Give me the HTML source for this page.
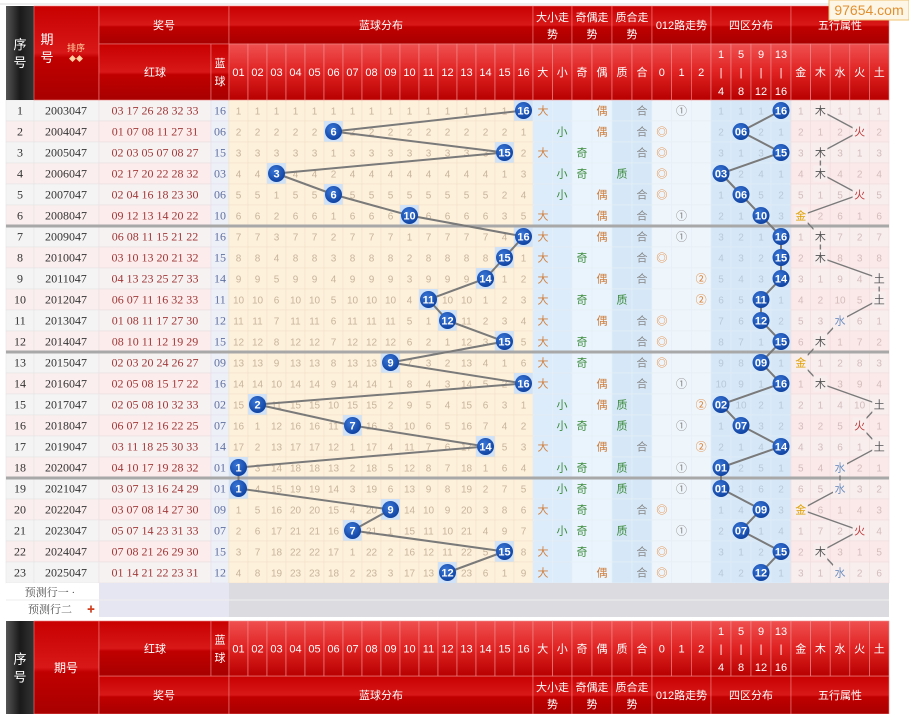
<!DOCTYPE html>
<html><head><meta charset="utf-8">
<style>
html,body{margin:0;padding:0;background:#fff;width:909px;height:714px;overflow:hidden}
svg{display:block}
text{font-family:"Liberation Sans","Noto Sans CJK SC",sans-serif}
.s{font-family:"Liberation Serif","Noto Serif CJK SC",serif}
</style></head><body>
<svg id="g" width="909" height="714" xmlns="http://www.w3.org/2000/svg">
<defs>
<linearGradient id="rh" x1="0" y1="0" x2="0" y2="1"><stop offset="0" stop-color="#c80000"/><stop offset=".5" stop-color="#d81818"/><stop offset=".55" stop-color="#c00000"/><stop offset="1" stop-color="#a80000"/></linearGradient>
<linearGradient id="rc" x1="0" y1="0" x2="0" y2="1"><stop offset="0" stop-color="#f05050"/><stop offset=".5" stop-color="#e02222"/><stop offset="1" stop-color="#b80000"/></linearGradient>
<linearGradient id="bk" x1="0" y1="0" x2="1" y2="0"><stop offset="0" stop-color="#555"/><stop offset=".5" stop-color="#1a1a1a"/><stop offset="1" stop-color="#333"/></linearGradient>
<radialGradient id="bl" cx=".4" cy=".35" r=".7"><stop offset="0" stop-color="#3a78d8"/><stop offset="1" stop-color="#0d3f9e"/></radialGradient>
</defs>
<rect x="0" y="0" width="909" height="714" fill="#fff"/>
<line x1="0" y1="4" x2="909" y2="4" stroke="#ddd"/>
<g id="data"></g>
<g id="hdr"></g>
<rect x="829" y="0" width="80" height="20" fill="#fdf6e6" stroke="#f0c070"/>
<text x="869" y="15" font-size="14" fill="#e09030" text-anchor="middle">97654.com</text>
</svg>
<script>
var NS="http://www.w3.org/2000/svg",D=document.getElementById('data'),H=document.getElementById('hdr');
function el(p,t,a,tx){var e=document.createElementNS(NS,t);for(var k in a)e.setAttribute(k,a[k]);if(tx!=null)e.textContent=tx;p.appendChild(e);return e;}
function R(p,x,y,w,h,f,s){return el(p,'rect',{x:x,y:y,width:w,height:h,fill:f,stroke:s||'none','stroke-width':.6});}
function T(p,x,y,t,o){o=o||{};var a={x:x,y:y,'font-size':o.fs||11,fill:o.c||'#fff','text-anchor':'middle'};if(o.cl)a['class']=o.cl;if(o.fw)a['font-weight']=o.fw;return el(p,'text',a,t);}
var BX=[];for(var i=0;i<=16;i++)BX.push(229+19*i);
var cols=[];// [x0,x1]
cols.push([6,34],[34,99],[99,211],[211,229]);
for(i=0;i<16;i++)cols.push([BX[i],BX[i+1]]);
var ex=[533,552.5,572,592,612,632,652,671.7,691.3,711,731,751,771,791,810.6,830.2,849.8,869.4,889];
for(i=0;i<18;i++)cols.push([ex[i],ex[i+1]]);
// header
function hdrBlock(y1,y2,y3,top){
 // y1..y2 first row, y2..y3 second row; top = true: group row on top
 R(H,6,y1,28,y3-y1,'url(#bk)');
 R(H,34,y1,65,y3-y1,'url(#rh)','#f08080');
 var gy1=top?y1:y2, gy2=top?y2:y3, cy1=top?y2:y1, cy2=top?y3:y2;
 var groups=[[99,229,'奖号'],[229,533,'蓝球分布'],[533,572,'大小走|势'],[572,612,'奇偶走|势'],[612,652,'质合走|势'],[652,711,'012路走势'],[711,791,'四区分布'],[791,889,'五行属性']];
 groups.forEach(function(g){R(H,g[0],gy1,g[1]-g[0],gy2-gy1,'url(#rh)','#f08080');var m=(g[0]+g[1])/2,cy=(gy1+gy2)/2;
  if(g[2].indexOf('|')>0){var p=g[2].split('|');T(H,m,cy-4,p[0]);T(H,m,cy+13,p[1]);}else T(H,m,cy+4,g[2]);});
 var cm=(cy1+cy2)/2;
 R(H,99,cy1,112,cy2-cy1,'url(#rh)','#f08080');T(H,155,cm+4,'红球');
 R(H,211,cy1,18,cy2-cy1,'url(#rh)','#f08080');T(H,220,cm-5,'蓝');T(H,220,cm+13,'球');
 var lab=[];for(i=1;i<=16;i++)lab.push((i<10?'0':'')+i);
 lab=lab.concat(['大','小','奇','偶','质','合','0','1','2','Z','Z','Z','Z','金','木','水','火','土']);
 var zl=[['1','4'],['5','8'],['9','12'],['13','16']],zi=0;
 for(i=4;i<cols.length;i++){var c=cols[i],m=(c[0]+c[1])/2;R(H,c[0],cy1,c[1]-c[0],cy2-cy1,'url(#rc)','#f09090');
  var L=lab[i-4];if(L=='Z'){var z=zl[zi++];T(H,m,cy1+14,z[0]);T(H,m,cm+4,'|');T(H,m,cy2-5,z[1]);}else T(H,m,cm+4,L);}
 T(H,20,(y1+y3)/2-4,'序',{fs:13});T(H,20,(y1+y3)/2+14,'号',{fs:13});
}
hdrBlock(6,44,100,true);
T(H,47,44,'期',{fs:13});T(H,47,62,'号',{fs:13});T(H,76,51,'排序',{fs:9,c:'#ffd0a0'});T(H,76,61,'◆◆',{fs:7,c:'#ffd0a0'});
hdrBlock(621,676,714,false);
// overwrite footer 期号 label
T(H,66,672,'期号',{fs:12});
// data
var b=[16,6,15,3,6,10,16,15,14,11,12,15,9,16,2,7,14,1,1,9,7,15,12];
var rows=[["2003047","03 17 26 28 32 33"],["2004047","01 07 08 11 27 31"],["2005047","02 03 05 07 08 27"],["2006047","02 17 20 22 28 32"],["2007047","02 04 16 18 23 30"],["2008047","09 12 13 14 20 22"],["2009047","06 08 11 15 21 22"],["2010047","03 10 13 20 21 32"],["2011047","04 13 23 25 27 33"],["2012047","06 07 11 16 32 33"],["2013047","01 08 11 17 27 30"],["2014047","08 10 11 12 19 29"],["2015047","02 03 20 24 26 27"],["2016047","02 05 08 15 17 22"],["2017047","02 05 08 10 32 33"],["2018047","06 07 12 16 22 25"],["2019047","03 11 18 25 30 33"],["2020047","04 10 17 19 28 32"],["2021047","03 07 13 16 24 29"],["2022047","03 07 08 14 27 30"],["2023047","05 07 14 23 31 33"],["2024047","07 08 21 26 29 30"],["2025047","01 14 21 22 23 31"]];
var wx=[1,3,1,1,3,0,1,1,4,4,2,1,0,1,4,3,4,2,2,0,3,1,2];
var WX=['金','木','水','火','土'],WC=['#e0a000','#555','#7090c0','#c04040','#555'];
var bg=['#fdf1dc','#fdf1dc'];
var ms=[],zm=[0,0,0,0],wm=[0,0,0,0,0];for(i=0;i<16;i++)ms.push(0);
var pb=[],pz=[],pw=[];
var prime={1:1,2:1,3:1,5:1,7:1,11:1,13:1};
var LG=el(D,'g',{}),TG=el(D,'g',{});
for(var r=0;r<23;r++){
 var y=100+21*r,cy=y+10.5,pk=r%2==1;
 R(D,6,y,28,21,pk?'#fbeeee':'#f4f4f4','#e4e4e4');R(D,34,y,65,21,pk?'#fbeeee':'#f4f4f4','#e4e4e4');
 R(D,99,y,112,21,pk?'#fcecec':'#f7f2f2','#e8e0e0');R(D,211,y,18,21,'#eef0f8','#e0e0ea');
 T(D,20,cy+4,String(r+1),{c:'#333',cl:'s',fs:12});T(D,66,cy+4,rows[r][0],{c:'#333',cl:'s',fs:12});
 T(D,155,cy+4,rows[r][1],{c:'#a03838',cl:'s',fs:12});T(D,220,cy+4,(b[r]<10?'0':'')+b[r],{c:'#6070a0',cl:'s',fs:12});
 for(i=0;i<16;i++){var x0=BX[i];R(D,x0,y,19,21,'#fdf1dc','#f2e2c8');
  if(b[r]-1==i){ms[i]=0;R(D,x0,y,19,21,'#cfe2f7');}else{ms[i]++;T(D,x0+9.5,cy+4,String(ms[i]),{c:'#c8b49c',fs:10});}}
 var sb=['#dcecfa','#dcecfa','#eaf4fc','#eaf4fc','#d6e8f8','#d6e8f8','#eef5fb','#eef5fb','#eef5fb'];
 for(i=0;i<9;i++)R(D,ex[i],y,ex[i+1]-ex[i],21,sb[i],'#e6eef6');
 var v=b[r];
 T(D,v>=9?543:562,cy+4,v>=9?'大':'小',{c:v>=9?'#d08040':'#3a8a3a',fs:11});
 T(D,v%2?582:602,cy+4,v%2?'奇':'偶',{c:v%2?'#3a8a3a':'#d08040',fs:11});
 T(D,prime[v]?622:642,cy+4,prime[v]?'质':'合',{c:prime[v]?'#3a8a3a':'#888',fs:11});
 var m3=v%3;T(D,(ex[6+m3]+ex[7+m3])/2,cy+4,['◎','①','②'][m3],{c:m3==1?'#888':'#e08030',fs:11});
 var z=Math.floor((v-1)/4);
 for(i=0;i<4;i++){var x0=ex[9+i],w=ex[10+i]-x0;R(D,x0,y,w,21,'#d6e8f8','#e2ecf6');
  if(i==z){zm[i]=0;pz.push([x0+w/2,cy]);}else{zm[i]++;T(D,x0+w/2,cy+4,String(zm[i]),{c:'#b8c8d8',fs:10});}}
 for(i=0;i<5;i++){var x0=ex[13+i],w=ex[14+i]-x0;R(D,x0,y,w,21,pk?'#fbe9e9':'#f8eeee','#f0dcdc');
  if(i==wx[r]){wm[i]=0;pw.push([x0+w/2,cy,i]);}else{wm[i]++;T(D,x0+w/2,cy+4,String(wm[i]),{c:'#d4bcbc',fs:10});}}
 pb.push([BX[v-1]+9.5,cy]);
}
[226,352,478].forEach(function(yy){el(D,'line',{x1:6,y1:yy,x2:889,y2:yy,stroke:'#a8a8a8','stroke-width':3});});
function poly(p,w){el(D,'polyline',{points:p.map(function(q){return q[0]+','+q[1]}).join(' '),fill:'none',stroke:'#7a7a7a','stroke-width':w});}
poly(pb,2);poly(pz,2);poly(pw,1.4);
pb.forEach(function(p,k){el(D,'circle',{cx:p[0],cy:p[1],r:8.5,fill:'url(#bl)'});T(D,p[0],p[1]+4,String(b[k]),{fs:11,fw:'bold'});});
pz.forEach(function(p,k){el(D,'circle',{cx:p[0],cy:p[1],r:8.5,fill:'url(#bl)'});T(D,p[0],p[1]+4,(b[k]<10?'0':'')+b[k],{fs:11,fw:'bold'});});
pw.forEach(function(p,k){R(D,p[0]-7,p[1]-8,14,16,'#f8eeee');T(D,p[0],p[1]+4,WX[p[2]],{c:WC[p[2]],fs:11});});
// prediction rows
R(D,6,583,93,34,'#fff');R(D,99,583,130,34,'#e6e6f2');R(D,229,583,660,34,'#dcdce0');
el(D,'line',{x1:6,y1:600,x2:889,y2:600,stroke:'#eee'});
T(D,50,596,'预测行一 ·',{c:'#555',fs:11,cl:'s'});T(D,50,613,'预测行二',{c:'#555',fs:11,cl:'s'});T(D,91,612,'✚',{c:'#d04020',fs:8});
</script>
</body></html>
